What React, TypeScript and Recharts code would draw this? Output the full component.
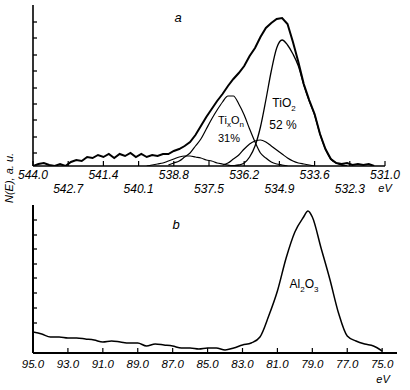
import { LineChart, Line, XAxis, YAxis } from 'recharts';

// panel a: O 1s region, eV (reversed axis)
const topTicks = [544.0, 542.7, 541.4, 540.1, 538.8, 537.5, 536.2, 534.9, 533.6, 532.3, 531.0];
const topYTicks = [13, 29, 46, 62, 78, 95, 111, 128, 144];

const envEv = [
  544.0, 543.8, 543.6, 543.4, 543.2, 543.0, 542.8, 542.6, 542.4, 542.2,
  542.0, 541.8, 541.6, 541.4, 541.2, 541.0, 540.8, 540.6, 540.4, 540.2,
  540.0, 539.8, 539.6, 539.4, 539.2, 539.0, 538.8, 538.6, 538.4, 538.2,
  538.0, 537.8, 537.6, 537.4, 537.2, 537.0, 536.8, 536.6, 536.4, 536.2,
  536.0, 535.8, 535.6, 535.4, 535.2, 535.0, 534.8, 534.6, 534.4, 534.2,
  534.0, 533.8, 533.6, 533.4, 533.2, 533.0, 532.8, 532.6, 532.4, 532.2,
  532.0, 531.8, 531.6, 531.4,
];
const envVals = [
  0, 2, 3, 1, 0, 2, 0, 4, 6, 5,
  9, 8, 11, 9, 12, 8, 12, 10, 13, 9,
  12, 9, 11, 10, 12, 12, 15, 17, 20, 24,
  31, 40, 49, 57, 65, 72, 80, 87, 93, 100,
  110, 118, 129, 138, 143, 147, 148, 142, 124, 104,
  82, 66, 52, 32, 17, 7, 3, 2, 3, 1,
  2, 1, 2, 0,
];

const tio2Ev = [
  536.8, 536.6, 536.4, 536.2, 536.0, 535.8, 535.6, 535.4, 535.2, 535.0,
  534.8, 534.6, 534.4, 534.2, 534.0, 533.8, 533.6, 533.4, 533.2, 533.0,
  532.8, 532.6, 532.4,
];
const tio2Vals = [0, 0.3, 1, 3, 9, 20, 39, 66, 95, 118, 126, 121, 112, 100, 81, 65, 51, 32, 17, 7, 3, 1, 0];

const tixEv = [
  539.0, 538.8, 538.6, 538.4, 538.2, 538.0, 537.8, 537.6, 537.4, 537.2,
  537.0, 536.8, 536.6, 536.4, 536.2, 536.0, 535.8, 535.6, 535.4, 535.2,
  535.0, 534.8, 534.6,
];
const tixVals = [1, 3, 5, 9, 13, 20, 27, 37, 47, 56, 64, 70, 70, 62, 51, 37, 24, 13, 8, 4, 2, 1, 0];

const midEv = [
  537.0, 536.8, 536.6, 536.4, 536.2, 536.0, 535.8, 535.6, 535.4, 535.2,
  535.0, 534.8, 534.6, 534.4, 534.2, 534.0, 533.8, 533.6,
];
const midVals = [1, 3, 7, 11, 17, 22, 25, 26, 24, 20, 16, 12, 8, 5, 3, 2, 1, 0];

const lowEv = [
  539.8, 539.6, 539.4, 539.2, 539.0, 538.8, 538.6, 538.4, 538.2, 538.0,
  537.8, 537.6, 537.4, 537.2, 537.0, 536.8, 536.6,
];
const lowVals = [0, 1, 2, 3, 5, 7, 9, 10, 10, 9, 8, 6, 5, 3, 2, 1, 0];

// panel b: Al 2p region
const bottomTicks = [95, 93, 91, 89, 87, 85, 83, 81, 79, 77, 75];
const bottomYTicks = [30, 45, 60, 75, 89, 104, 118, 133];

const alEv = [
  95.0, 94.5, 94.0, 93.5, 93.0, 92.5, 92.0, 91.5, 91.0, 90.5,
  90.0, 89.5, 89.0, 88.5, 88.0, 87.5, 87.0, 86.5, 86.0, 85.5,
  85.0, 84.5, 84.0, 83.5, 83.0, 82.5, 82.0, 81.5, 81.0, 80.5,
  80.0, 79.5, 79.25, 79.0, 78.5, 78.0, 77.5, 77.0, 76.5, 76.0,
  75.5, 75.0,
];
const alVals = [
  21, 19, 16, 16, 15, 15, 14, 13, 11, 12,
  11, 10, 10, 7, 9, 8, 7, 5, 5, 4,
  5, 5, 3, 5, 8, 10, 16, 37, 62, 95,
  121, 136, 142, 136, 105, 74, 40, 17, 12, 9,
  7, 2,
];

const toPoints = (es: number[], vs: number[]) => es.map((e, i) => ({ e, v: vs[i] }));

const INK = '#000';
const FONT = '"Liberation Sans", Arial, sans-serif';

function TopTick({ x, y, payload, index }: any) {
  const low = index % 2 === 1;
  return (
    <g>
      <line x1={x} x2={x} y1={y} y2={y - 5} stroke={INK} strokeWidth={1.2} />
      <text
        x={x}
        y={y + (low ? 27 : 13)}
        textAnchor="middle"
        fontSize={12}
        fontStyle="italic"
        fontFamily={FONT}
        fill={INK}
      >
        {Number(payload.value).toFixed(1)}
      </text>
    </g>
  );
}

function BottomTick({ x, y, payload }: any) {
  return (
    <g>
      <line x1={x} x2={x} y1={y} y2={y - 5} stroke={INK} strokeWidth={1.2} />
      <text x={x} y={y + 15} textAnchor="middle" fontSize={11.5} fontStyle="italic" fontFamily={FONT} fill={INK}>
        {Number(payload.value).toFixed(1)}
      </text>
    </g>
  );
}

// inward tick marks on the vertical axes
function YTick({ x, y }: any) {
  return <line x1={x} x2={x + 4} y1={y} y2={y} stroke={INK} strokeWidth={1.3} />;
}

const label = (left: number, top: number, style: React.CSSProperties = {}) => ({
  position: 'absolute' as const,
  left,
  top,
  transform: 'translate(-50%, -50%)',
  fontFamily: FONT,
  fontSize: 12,
  color: INK,
  whiteSpace: 'nowrap' as const,
  lineHeight: 1,
  ...style,
});

export default function App() {
  return (
    <div style={{ position: 'absolute', left: 0, top: 0, width: 410, height: 390, background: '#fff' }}>
      <div style={{ position: 'absolute', left: 0, top: 0 }}>
        <LineChart width={410} height={200} margin={{ top: 5, right: 25, bottom: 0, left: 23 }}>
          <XAxis
            type="number"
            dataKey="e"
            domain={[531, 544]}
            reversed
            allowDataOverflow
            ticks={topTicks}
            interval={0}
            height={34}
            tickSize={0}
            tickMargin={0}
            tickLine={false}
            tick={TopTick}
            axisLine={{ stroke: INK, strokeWidth: 1.3 }}
          />
          <YAxis
            type="number"
            domain={[0, 161]}
            allowDataOverflow
            ticks={topYTicks}
            interval={0}
            width={10}
            tickSize={0}
            tickMargin={0}
            tickLine={false}
            tick={YTick}
            axisLine={{ stroke: INK, strokeWidth: 1.6 }}
          />
          <Line data={toPoints(lowEv, lowVals)} dataKey="v" type="monotone" stroke={INK} strokeWidth={1.2} dot={false} isAnimationActive={false} />
          <Line data={toPoints(midEv, midVals)} dataKey="v" type="monotone" stroke={INK} strokeWidth={1.2} dot={false} isAnimationActive={false} />
          <Line data={toPoints(tixEv, tixVals)} dataKey="v" type="monotone" stroke={INK} strokeWidth={1.2} dot={false} isAnimationActive={false} />
          <Line data={toPoints(tio2Ev, tio2Vals)} dataKey="v" type="monotone" stroke={INK} strokeWidth={1.3} dot={false} isAnimationActive={false} />
          <Line data={toPoints(envEv, envVals)} dataKey="v" type="linear" stroke={INK} strokeWidth={2} dot={false} isAnimationActive={false} />
        </LineChart>
      </div>

      <div style={{ position: 'absolute', left: 0, top: 200 }}>
        <LineChart width={410} height={190} margin={{ top: 5, right: 13, bottom: 0, left: 23 }}>
          <XAxis
            type="number"
            dataKey="e"
            domain={[74.15, 95]}
            reversed
            allowDataOverflow
            ticks={bottomTicks}
            interval={0}
            height={37}
            tickSize={0}
            tickMargin={0}
            tickLine={false}
            tick={BottomTick}
            axisLine={{ stroke: INK, strokeWidth: 2 }}
          />
          <YAxis
            type="number"
            domain={[0, 148]}
            allowDataOverflow
            ticks={bottomYTicks}
            interval={0}
            width={10}
            tickSize={0}
            tickMargin={0}
            tickLine={false}
            tick={YTick}
            axisLine={{ stroke: INK, strokeWidth: 2 }}
          />
          <Line data={toPoints(alEv, alVals)} dataKey="v" type="monotone" stroke={INK} strokeWidth={1.5} dot={false} isAnimationActive={false} />
        </LineChart>
      </div>

      {/* annotations */}
      <div style={label(178, 17, { fontStyle: 'italic', fontSize: 13 })}>a</div>
      <div style={label(231, 122, { fontSize: 11 })}>
        Ti<sub style={{ fontSize: 8 }}>x</sub>O<sub style={{ fontSize: 8 }}>n</sub>
      </div>
      <div style={label(229, 138, { fontSize: 11 })}>31%</div>
      <div style={label(284, 105, { fontSize: 12 })}>
        TiO<sub style={{ fontSize: 8 }}>2</sub>
      </div>
      <div style={label(283, 125, { fontSize: 12 })}>52 %</div>
      <div style={label(385, 188, { fontStyle: 'italic', fontSize: 11 })}>eV</div>

      <div style={label(176, 224, { fontStyle: 'italic', fontSize: 13 })}>b</div>
      <div style={label(304, 286, { fontSize: 12 })}>
        Al<sub style={{ fontSize: 8 }}>2</sub>O<sub style={{ fontSize: 8 }}>3</sub>
      </div>
      <div style={label(383, 379, { fontStyle: 'italic', fontSize: 11 })}>eV</div>

      <div style={label(9, 178, { transform: 'translate(-50%, -50%) rotate(-90deg)', fontStyle: 'italic', fontSize: 11 })}>
        N(E), a. u.
      </div>
    </div>
  );
}
